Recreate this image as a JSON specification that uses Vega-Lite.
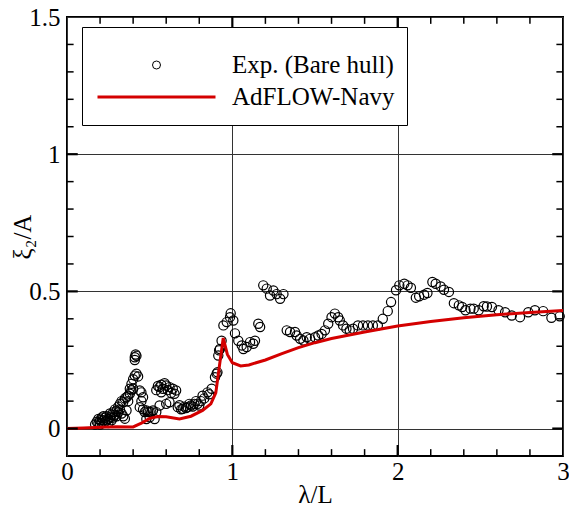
{
  "$schema": "https://vega.github.io/schema/vega-lite/v6.json",
  "width": 496,
  "height": 439,
  "autosize": {"type": "none"},
  "padding": {"left": 67, "top": 17, "right": 6, "bottom": 50},
  "background": "white",
  "config": {"view": {"stroke": "black", "strokeWidth": 2}, "font": "Liberation Serif"},
  "datasets": {
    "exp": [
      {"x":0.17,"y":0.015},{"x":0.18,"y":0.025},{"x":0.19,"y":0.02},{"x":0.19,"y":0.035},{"x":0.2,"y":0.03},{"x":0.2,"y":0.015},{"x":0.21,"y":0.04},{"x":0.21,"y":0.02},{"x":0.22,"y":0.03},{"x":0.22,"y":0.045},{"x":0.23,"y":0.025},{"x":0.23,"y":0.04},{"x":0.24,"y":0.03},{"x":0.24,"y":0.045},{"x":0.25,"y":0.035},{"x":0.25,"y":0.02},{"x":0.26,"y":0.04},{"x":0.26,"y":0.055},{"x":0.27,"y":0.03},{"x":0.27,"y":0.05},{"x":0.28,"y":0.04},{"x":0.28,"y":0.06},{"x":0.29,"y":0.05},{"x":0.29,"y":0.07},{"x":0.3,"y":0.065},{"x":0.3,"y":0.045},{"x":0.31,"y":0.08},{"x":0.31,"y":0.06},{"x":0.32,"y":0.09},{"x":0.32,"y":0.07},{"x":0.33,"y":0.1},{"x":0.33,"y":0.055},{"x":0.34,"y":0.096},{"x":0.34,"y":0.045},{"x":0.35,"y":0.036},{"x":0.35,"y":0.11},{"x":0.36,"y":0.066},{"x":0.36,"y":0.114},{"x":0.37,"y":0.12},{"x":0.37,"y":0.1},{"x":0.38,"y":0.127},{"x":0.38,"y":0.145},{"x":0.39,"y":0.163},{"x":0.39,"y":0.14},{"x":0.4,"y":0.145},{"x":0.4,"y":0.18},{"x":0.41,"y":0.193},{"x":0.41,"y":0.25},{"x":0.41,"y":0.26},{"x":0.415,"y":0.27},{"x":0.42,"y":0.265},{"x":0.42,"y":0.2},{"x":0.43,"y":0.19},{"x":0.44,"y":0.139},{"x":0.44,"y":0.078},{"x":0.45,"y":0.132},{"x":0.45,"y":0.1},{"x":0.46,"y":0.114},{"x":0.46,"y":0.07},{"x":0.47,"y":0.06},{"x":0.48,"y":0.066},{"x":0.48,"y":0.035},{"x":0.49,"y":0.06},{"x":0.5,"y":0.06},{"x":0.5,"y":0.041},{"x":0.51,"y":0.06},{"x":0.52,"y":0.066},{"x":0.53,"y":0.035},{"x":0.54,"y":0.06},{"x":0.54,"y":0.14},{"x":0.55,"y":0.155},{"x":0.56,"y":0.151},{"x":0.56,"y":0.084},{"x":0.57,"y":0.132},{"x":0.57,"y":0.16},{"x":0.58,"y":0.145},{"x":0.59,"y":0.165},{"x":0.6,"y":0.157},{"x":0.6,"y":0.09},{"x":0.61,"y":0.14},{"x":0.62,"y":0.151},{"x":0.62,"y":0.096},{"x":0.63,"y":0.13},{"x":0.64,"y":0.145},{"x":0.65,"y":0.127},{"x":0.66,"y":0.139},{"x":0.67,"y":0.078},{"x":0.68,"y":0.085},{"x":0.69,"y":0.07},{"x":0.7,"y":0.072},{"x":0.71,"y":0.08},{"x":0.72,"y":0.075},{"x":0.73,"y":0.078},{"x":0.74,"y":0.09},{"x":0.75,"y":0.084},{"x":0.76,"y":0.08},{"x":0.77,"y":0.09},{"x":0.78,"y":0.1},{"x":0.79,"y":0.09},{"x":0.8,"y":0.084},{"x":0.81,"y":0.1},{"x":0.82,"y":0.12},{"x":0.83,"y":0.11},{"x":0.85,"y":0.132},{"x":0.86,"y":0.125},{"x":0.875,"y":0.145},{"x":0.895,"y":0.187},{"x":0.905,"y":0.2},{"x":0.91,"y":0.205},{"x":0.915,"y":0.266},{"x":0.92,"y":0.285},{"x":0.925,"y":0.29},{"x":0.935,"y":0.32},{"x":0.946,"y":0.376},{"x":0.966,"y":0.388},{"x":0.986,"y":0.406},{"x":0.99,"y":0.42},{"x":1.006,"y":0.394},{"x":1.016,"y":0.347},{"x":1.036,"y":0.32},{"x":1.057,"y":0.303},{"x":1.067,"y":0.29},{"x":1.087,"y":0.297},{"x":1.107,"y":0.315},{"x":1.127,"y":0.309},{"x":1.137,"y":0.32},{"x":1.157,"y":0.382},{"x":1.168,"y":0.37},{"x":1.187,"y":0.522},{"x":1.208,"y":0.51},{"x":1.228,"y":0.485},{"x":1.248,"y":0.503},{"x":1.268,"y":0.49},{"x":1.289,"y":0.473},{"x":1.309,"y":0.49},{"x":1.329,"y":0.358},{"x":1.349,"y":0.352},{"x":1.379,"y":0.352},{"x":1.389,"y":0.339},{"x":1.41,"y":0.327},{"x":1.43,"y":0.321},{"x":1.45,"y":0.333},{"x":1.47,"y":0.327},{"x":1.5,"y":0.333},{"x":1.52,"y":0.339},{"x":1.54,"y":0.345},{"x":1.56,"y":0.358},{"x":1.58,"y":0.382},{"x":1.6,"y":0.406},{"x":1.62,"y":0.419},{"x":1.64,"y":0.406},{"x":1.65,"y":0.394},{"x":1.67,"y":0.376},{"x":1.69,"y":0.364},{"x":1.71,"y":0.358},{"x":1.73,"y":0.364},{"x":1.76,"y":0.376},{"x":1.79,"y":0.376},{"x":1.82,"y":0.376},{"x":1.85,"y":0.376},{"x":1.88,"y":0.376},{"x":1.91,"y":0.4},{"x":1.94,"y":0.428},{"x":1.96,"y":0.461},{"x":1.99,"y":0.504},{"x":2.01,"y":0.522},{"x":2.04,"y":0.528},{"x":2.06,"y":0.522},{"x":2.08,"y":0.513},{"x":2.11,"y":0.477},{"x":2.13,"y":0.482},{"x":2.16,"y":0.488},{"x":2.18,"y":0.494},{"x":2.21,"y":0.534},{"x":2.23,"y":0.528},{"x":2.26,"y":0.518},{"x":2.28,"y":0.506},{"x":2.31,"y":0.498},{"x":2.34,"y":0.457},{"x":2.37,"y":0.449},{"x":2.39,"y":0.443},{"x":2.41,"y":0.431},{"x":2.44,"y":0.437},{"x":2.46,"y":0.437},{"x":2.49,"y":0.431},{"x":2.52,"y":0.446},{"x":2.54,"y":0.445},{"x":2.57,"y":0.443},{"x":2.61,"y":0.431},{"x":2.65,"y":0.424},{"x":2.69,"y":0.412},{"x":2.74,"y":0.406},{"x":2.79,"y":0.424},{"x":2.83,"y":0.431},{"x":2.88,"y":0.428},{"x":2.93,"y":0.404},{"x":2.98,"y":0.409}
    ],
    "cfd": [
      {"x":0.0,"y":0.0},{"x":0.1,"y":0.002},{"x":0.2,"y":0.005},{"x":0.3,"y":0.007},{"x":0.4,"y":0.006},{"x":0.45,"y":0.02},{"x":0.5,"y":0.037},{"x":0.55,"y":0.044},{"x":0.6,"y":0.043},{"x":0.68,"y":0.035},{"x":0.75,"y":0.045},{"x":0.82,"y":0.066},{"x":0.87,"y":0.09},{"x":0.9,"y":0.13},{"x":0.92,"y":0.22},{"x":0.945,"y":0.33},{"x":0.97,"y":0.27},{"x":1.0,"y":0.24},{"x":1.05,"y":0.228},{"x":1.1,"y":0.232},{"x":1.2,"y":0.25},{"x":1.3,"y":0.273},{"x":1.4,"y":0.295},{"x":1.5,"y":0.313},{"x":1.6,"y":0.328},{"x":1.7,"y":0.34},{"x":1.8,"y":0.352},{"x":1.9,"y":0.363},{"x":2.0,"y":0.374},{"x":2.2,"y":0.39},{"x":2.4,"y":0.404},{"x":2.6,"y":0.415},{"x":2.8,"y":0.423},{"x":3.0,"y":0.43}
    ],
    "xminor": [{"v":0.2},{"v":0.4},{"v":0.6},{"v":0.8},{"v":1.2},{"v":1.4},{"v":1.6},{"v":1.8},{"v":2.2},{"v":2.4},{"v":2.6},{"v":2.8}],
    "xmajor": [{"v":1},{"v":2}],
    "yminor": [{"v":0.1},{"v":0.2},{"v":0.3},{"v":0.4},{"v":0.6},{"v":0.7},{"v":0.8},{"v":0.9},{"v":1.1},{"v":1.2},{"v":1.3},{"v":1.4}],
    "ymajor": [{"v":0},{"v":0.5},{"v":1}]
  },
  "resolve": {"axis": {"x": "independent", "y": "independent"}},
  "layer": [
    {
      "data": {"name": "exp"},
      "mark": {"type": "point", "filled": false, "size": 85, "strokeWidth": 1.2, "opacity": 1},
      "encoding": {
        "x": {
          "field": "x", "type": "quantitative",
          "scale": {"domain": [0, 3], "nice": false, "zero": false},
          "axis": {
            "orient": "bottom",
            "values": [0, 1, 2, 3],
            "domain": false,
            "grid": true,
            "gridColor": "#333333",
            "gridWidth": 1,
            "ticks": false,
            "labelExpr": "'' + datum.value",
            "labelFlush": false,
            "labelFont": "Liberation Serif",
            "labelFontSize": 25,
            "labelColor": "black",
            "labelBaseline": "alphabetic",
            "labelPadding": 23,
            "title": "λ/L",
            "titleFont": "Liberation Serif",
            "titleFontSize": 25,
            "titleFontWeight": "normal",
            "titleColor": "black",
            "titleY": 46,
            "titleBaseline": "alphabetic"
          }
        },
        "y": {
          "field": "y", "type": "quantitative",
          "scale": {"domain": [-0.1, 1.5], "nice": false, "zero": false},
          "axis": {
            "orient": "left",
            "values": [0, 0.5, 1, 1.5],
            "domain": false,
            "grid": true,
            "gridColor": "#333333",
            "gridWidth": 1,
            "ticks": false,
            "labelExpr": "'' + datum.value",
            "labelFlush": false,
            "labelFont": "Liberation Serif",
            "labelFontSize": 25,
            "labelColor": "black",
            "labelBaseline": "middle",
            "labelPadding": 7,
            "title": "ξ₂/A",
            "titleFont": "Liberation Serif",
            "titleFontSize": 25,
            "titleFontWeight": "normal",
            "titleColor": "black",
            "titleX": -45,
            "titleY": 219.5,
            "titleAngle": -90,
            "titleAlign": "center",
            "titleBaseline": "middle"
          }
        },
        "color": {
          "datum": "Exp. (Bare hull)",
          "scale": {"domain": ["Exp. (Bare hull)", "AdFLOW-Navy"], "range": ["black", "#d40000"]},
          "legend": {
            "orient": "none", "legendX": 15, "legendY": 10, "title": " ", "titleFontSize": 5, "titlePadding": 5,
            "strokeColor": "black", "fillColor": "white", "padding": 12,
            "labelFont": "Liberation Serif", "labelFontSize": 25, "labelColor": "black", "labelLimit": 400,
            "symbolStrokeWidth": 1,
            "clipHeight": 32, "rowPadding": 0, "symbolOffset": 50, "labelOffset": 63,
            "encode": {"symbols": {"update": {
              "shape": {"signal": "datum.value === 'AdFLOW-Navy' ? 'stroke' : 'circle'"},
              "size": {"signal": "datum.value === 'AdFLOW-Navy' ? 13924 : 64"},
              "strokeWidth": {"signal": "datum.value === 'AdFLOW-Navy' ? 3 : 1"},
              "fill": {"value": "transparent"},
              "opacity": {"value": 1}
            }}}
          }
        }
      }
    },
    {
      "data": {"name": "cfd"},
      "mark": {"type": "line", "strokeWidth": 3},
      "encoding": {
        "x": {"field": "x", "type": "quantitative", "scale": {"domain": [0, 3], "nice": false, "zero": false}, "axis": null},
        "y": {"field": "y", "type": "quantitative", "scale": {"domain": [-0.1, 1.5], "nice": false, "zero": false}, "axis": null},
        "color": {
          "datum": "AdFLOW-Navy",
          "scale": {"domain": ["Exp. (Bare hull)", "AdFLOW-Navy"], "range": ["black", "#d40000"]},
          "legend": {
            "orient": "none", "legendX": 15, "legendY": 10, "title": " ", "titleFontSize": 5, "titlePadding": 5,
            "strokeColor": "black", "fillColor": "white", "padding": 12,
            "labelFont": "Liberation Serif", "labelFontSize": 25, "labelColor": "black", "labelLimit": 400,
            "symbolStrokeWidth": 1,
            "clipHeight": 32, "rowPadding": 0, "symbolOffset": 50, "labelOffset": 63,
            "encode": {"symbols": {"update": {
              "shape": {"signal": "datum.value === 'AdFLOW-Navy' ? 'stroke' : 'circle'"},
              "size": {"signal": "datum.value === 'AdFLOW-Navy' ? 13924 : 64"},
              "strokeWidth": {"signal": "datum.value === 'AdFLOW-Navy' ? 3 : 1"},
              "fill": {"value": "transparent"},
              "opacity": {"value": 1}
            }}}
          }
        }
      }
    },
    {
      "data": {"name": "xminor"},
      "mark": {"type": "rule", "color": "black", "strokeWidth": 1.5},
      "encoding": {
        "x": {"field": "v", "type": "quantitative", "scale": {"domain": [0, 3], "nice": false, "zero": false}, "axis": null},
        "y": {"datum": -0.1, "type": "quantitative", "scale": {"domain": [-0.1, 1.5], "nice": false, "zero": false}, "axis": null},
        "y2": {"datum": -0.075}
      }
    },
    {
      "data": {"name": "xminor"},
      "mark": {"type": "rule", "color": "black", "strokeWidth": 1.5},
      "encoding": {
        "x": {"field": "v", "type": "quantitative", "scale": {"domain": [0, 3], "nice": false, "zero": false}, "axis": null},
        "y": {"datum": 1.5, "type": "quantitative", "scale": {"domain": [-0.1, 1.5], "nice": false, "zero": false}, "axis": null},
        "y2": {"datum": 1.475}
      }
    },
    {
      "data": {"name": "xmajor"},
      "mark": {"type": "rule", "color": "black", "strokeWidth": 2.2},
      "encoding": {
        "x": {"field": "v", "type": "quantitative", "scale": {"domain": [0, 3], "nice": false, "zero": false}, "axis": null},
        "y": {"datum": -0.1, "type": "quantitative", "scale": {"domain": [-0.1, 1.5], "nice": false, "zero": false}, "axis": null},
        "y2": {"datum": -0.06}
      }
    },
    {
      "data": {"name": "xmajor"},
      "mark": {"type": "rule", "color": "black", "strokeWidth": 2.2},
      "encoding": {
        "x": {"field": "v", "type": "quantitative", "scale": {"domain": [0, 3], "nice": false, "zero": false}, "axis": null},
        "y": {"datum": 1.5, "type": "quantitative", "scale": {"domain": [-0.1, 1.5], "nice": false, "zero": false}, "axis": null},
        "y2": {"datum": 1.46}
      }
    },
    {
      "data": {"name": "yminor"},
      "mark": {"type": "rule", "color": "black", "strokeWidth": 1.5},
      "encoding": {
        "y": {"field": "v", "type": "quantitative", "scale": {"domain": [-0.1, 1.5], "nice": false, "zero": false}, "axis": null},
        "x": {"datum": 0, "type": "quantitative", "scale": {"domain": [0, 3], "nice": false, "zero": false}, "axis": null},
        "x2": {"datum": 0.04}
      }
    },
    {
      "data": {"name": "yminor"},
      "mark": {"type": "rule", "color": "black", "strokeWidth": 1.5},
      "encoding": {
        "y": {"field": "v", "type": "quantitative", "scale": {"domain": [-0.1, 1.5], "nice": false, "zero": false}, "axis": null},
        "x": {"datum": 3, "type": "quantitative", "scale": {"domain": [0, 3], "nice": false, "zero": false}, "axis": null},
        "x2": {"datum": 2.96}
      }
    },
    {
      "data": {"name": "ymajor"},
      "mark": {"type": "rule", "color": "black", "strokeWidth": 2.2},
      "encoding": {
        "y": {"field": "v", "type": "quantitative", "scale": {"domain": [-0.1, 1.5], "nice": false, "zero": false}, "axis": null},
        "x": {"datum": 0, "type": "quantitative", "scale": {"domain": [0, 3], "nice": false, "zero": false}, "axis": null},
        "x2": {"datum": 0.065}
      }
    },
    {
      "data": {"name": "ymajor"},
      "mark": {"type": "rule", "color": "black", "strokeWidth": 2.2},
      "encoding": {
        "y": {"field": "v", "type": "quantitative", "scale": {"domain": [-0.1, 1.5], "nice": false, "zero": false}, "axis": null},
        "x": {"datum": 3, "type": "quantitative", "scale": {"domain": [0, 3], "nice": false, "zero": false}, "axis": null},
        "x2": {"datum": 2.935}
      }
    }
  ]
}
